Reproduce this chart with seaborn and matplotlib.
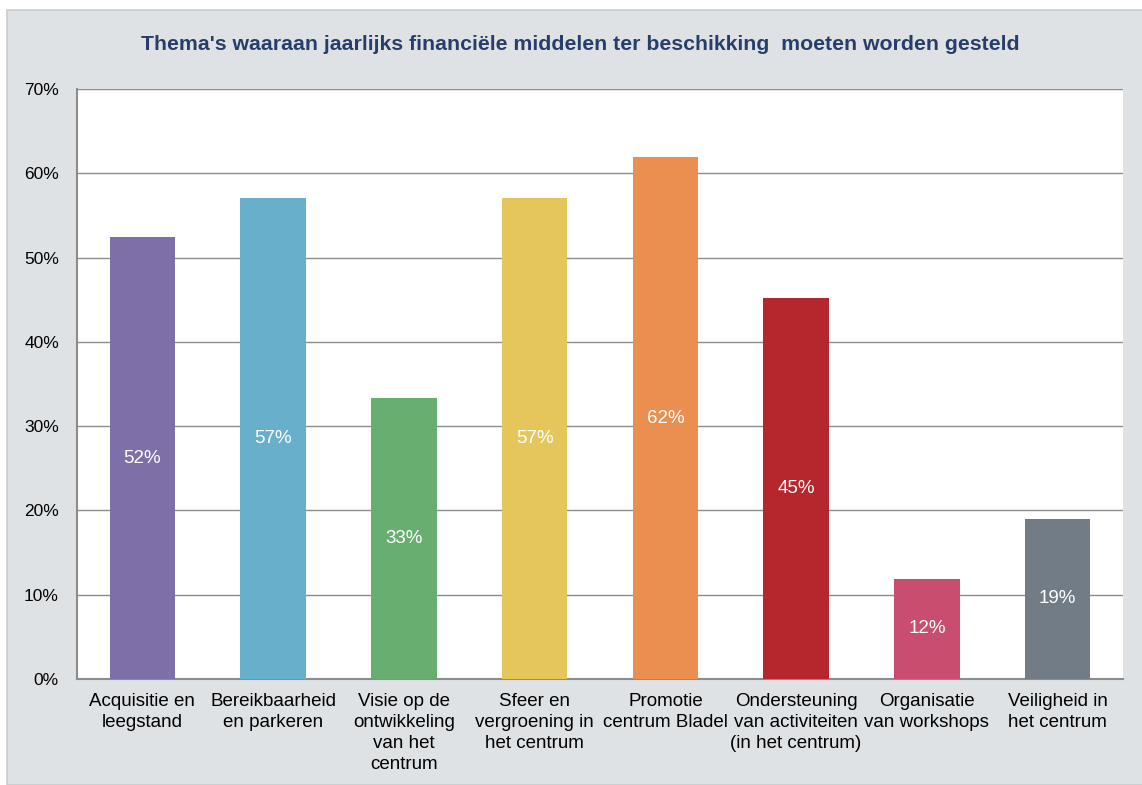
import numpy as np
import pandas as pd
import matplotlib
matplotlib.use('Agg')
import matplotlib.pyplot as plt
import seaborn as sns
from matplotlib.patches import Rectangle
from matplotlib.ticker import FixedLocator, PercentFormatter

# --- data ---
categories = [
    'Acquisitie en\nleegstand',
    'Bereikbaarheid\nen parkeren',
    'Visie op de\nontwikkeling\nvan het\ncentrum',
    'Sfeer en\nvergroening in\nhet centrum',
    'Promotie\ncentrum Bladel',
    'Ondersteuning\nvan activiteiten\n(in het centrum)',
    'Organisatie\nvan workshops',
    'Veiligheid in\nhet centrum',
]
values = [52.4, 57.1, 33.3, 57.1, 61.9, 45.2, 11.9, 19.0]
bar_colors = ['#7E6FA8', '#67AFCB', '#67AE70', '#E4C65A',
              '#EA8F4F', '#B5272D', '#C94D6E', '#727C87']
title = "Thema's waaraan jaarlijks financiële middelen ter beschikking  moeten worden gesteld"

df = pd.DataFrame({'thema': categories, 'pct': values})

sns.set_style('white')
plt.rcParams['font.family'] = ['Liberation Sans', 'DejaVu Sans']

fig = plt.figure(figsize=(11.42, 7.85), dpi=100)
fig.patch.set_facecolor('white')

# grey panel behind the chart
fig.patches.append(Rectangle((7 / 1142, 0), 1.0, 1 - 10 / 785,
                             transform=fig.transFigure, facecolor='#DFE2E5',
                             edgecolor='#C9CCCF', linewidth=1.2, zorder=0))

ax = fig.add_axes([77 / 1142, 1 - 679 / 785, (1123 - 77) / 1142, (679 - 89) / 785])
ax.set_zorder(2)
ax.set_facecolor('white')

sns.barplot(data=df, x='thema', y='pct', hue='thema', palette=bar_colors,
            legend=False, width=0.5, saturation=1, linewidth=0, ax=ax, zorder=3)

for cont in ax.containers:
    ax.bar_label(cont, labels=[f'{v:.0f}%' for v in cont.datavalues],
                 label_type='center', color='white', fontsize=13.5)

ax.set_ylim(0, 70)
ax.set_xlim(-0.5, len(categories) - 0.5)
ax.set_yticks(np.arange(0, 71, 10))
ax.yaxis.set_major_formatter(PercentFormatter(decimals=0))
ax.yaxis.grid(True, color='#8C8C8C', linewidth=1.0)
ax.set_axisbelow(True)

ax.xaxis.set_minor_locator(FixedLocator(np.arange(-0.5, len(categories), 1)))
ax.tick_params(axis='x', which='major', length=0, pad=10, labelsize=13.5, colors='black')
ax.tick_params(axis='x', which='minor', length=5, width=1.2, color='#8C8C8C', direction='out')
ax.tick_params(axis='y', length=5, width=1.2, color='#8C8C8C', labelsize=12.5, pad=8,
               direction='out', labelcolor='black')
for lbl in ax.get_xticklabels():
    lbl.set_linespacing(1.3)
ax.set_xlabel('')
ax.set_ylabel('')

for side in ['top', 'right']:
    ax.spines[side].set_visible(False)
for side in ['left', 'bottom']:
    ax.spines[side].set_color('#8C8C8C')
    ax.spines[side].set_linewidth(1.5)

fig.text(580 / 1142, 1 - 44 / 785, title, ha='center', va='center',
         fontsize=15.3, fontweight='bold', color='#263F6A')

fig.savefig('out.png', dpi=100)
